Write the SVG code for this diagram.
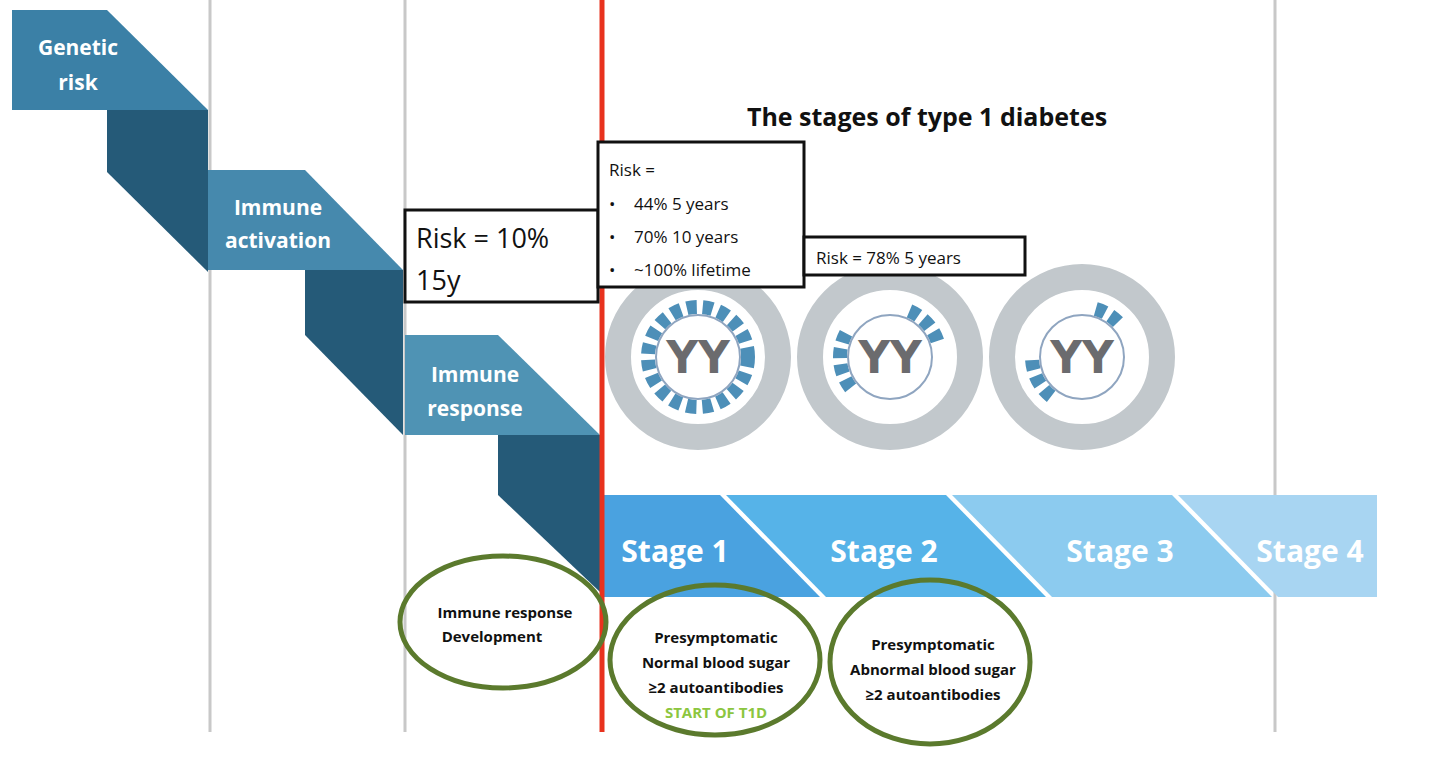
<svg xmlns="http://www.w3.org/2000/svg" width="1440" height="774" viewBox="0 0 1440 774">
<style>
.lt{fill:#3b80a6}.dk{fill:#255a78}
.wt{font-family:"Open Sans","Liberation Sans",sans-serif;font-weight:bold;fill:#fff;text-anchor:middle}
.bx{fill:#fff;stroke:#111;stroke-width:3}
.t{font-family:"Open Sans","Liberation Sans",sans-serif;fill:#111}
.ov{fill:none;stroke:#5b7a2d;stroke-width:5}
.ring{fill:none;stroke:#c2c8cc;stroke-width:26}
.gear{fill:none;stroke:#4d8fb8;stroke-width:14}
.yy{font-family:"DejaVu Sans","Liberation Sans",sans-serif;font-weight:bold;font-size:44px;fill:#6b6b6e;text-anchor:middle}
.ot{font-family:"Open Sans","Liberation Sans",sans-serif;font-weight:bold;font-size:15px;fill:#111;text-anchor:middle}
</style>
<rect width="1440" height="774" fill="#fff"/>
<g id="gridlines" stroke="#c8c8c8" stroke-width="3">
<line x1="210" y1="0" x2="210" y2="732"/><line x1="405" y1="0" x2="405" y2="732"/><line x1="1275" y1="0" x2="1275" y2="732"/>
</g>
<g id="stairs">
<polygon class="dk" points="107,110 208,110 208,272 107,172"/>
<polygon class="dk" points="305,270 403,270 403,435 305,335"/>
<polygon class="dk" points="498,435 600,435 600,592 498,495"/>
<g id="genetic"><polygon class="lt" points="12,10 107,10 208,110 12,110"/><text class="wt" font-size="21"><tspan x="78" y="55">Genetic</tspan><tspan x="78" y="90">risk</tspan></text></g>
<g id="activation"><polygon points="208,170 305,170 403,270 208,270" fill="#4689ad"/><text class="wt" font-size="21"><tspan x="278" y="215">Immune</tspan><tspan x="278" y="248">activation</tspan></text></g>
<g id="response"><polygon points="405,335 498,335 600,435 405,435" fill="#4f93b4"/><text class="wt" font-size="21"><tspan x="475" y="382">Immune</tspan><tspan x="475" y="416">response</tspan></text></g>
</g>
<g id="stages">
<g id="s1"><polygon points="600,495 720,495 820,597 600,597" fill="#4aa2e0"/><text class="wt" font-size="30" x="675" y="562">Stage 1</text></g>
<g id="s2"><polygon points="726,495 946,495 1046,597 826,597" fill="#56b3e8"/><text class="wt" font-size="30" x="884" y="562">Stage 2</text></g>
<g id="s3"><polygon points="952,495 1172,495 1272,597 1052,597" fill="#8ccbef"/><text class="wt" font-size="30" x="1120" y="562">Stage 3</text></g>
<g id="s4"><polygon points="1178,495 1377,495 1377,597 1278,597" fill="#a8d5f2"/><text class="wt" font-size="30" x="1310" y="562">Stage 4</text></g>
</g>
<line x1="602" y1="0" x2="602" y2="732" stroke="#e8321e" stroke-width="5"/>
<text class="t" x="927" y="126" font-size="25" font-weight="bold" text-anchor="middle">The stages of type 1 diabetes</text>
<g id="circles">
<g id="c1"><circle cx="698" cy="357" r="80" class="ring"/><circle cx="698" cy="357" r="50" class="gear" style="stroke-dasharray:10 6"/><circle cx="698" cy="357" r="42" fill="#fff" stroke="#8fa5c0" stroke-width="2"/><text class="yy" x="698" y="373">YY</text></g>
<g id="c2"><circle cx="890" cy="357" r="80" class="ring"/><circle cx="890" cy="357" r="50" class="gear" transform="rotate(-90 890 357)" style="stroke-dasharray:0 20 10 6 10 6 10 140 10 6 10 6 10 6 10 64"/><circle cx="890" cy="357" r="42" fill="#fff" stroke="#8fa5c0" stroke-width="2"/><text class="yy" x="890" y="373">YY</text></g>
<g id="c3"><circle cx="1082" cy="357" r="80" class="ring"/><circle cx="1082" cy="357" r="50" class="gear" transform="rotate(-90 1082 357)" style="stroke-dasharray:0 14 10 6 10 150 10 6 10 6 10 82"/><circle cx="1082" cy="357" r="42" fill="#fff" stroke="#8fa5c0" stroke-width="2"/><text class="yy" x="1082" y="373">YY</text></g>
</g>
<g id="risk10"><rect class="bx" x="405" y="210" width="193" height="92"/><text class="t" font-size="27"><tspan x="416" y="248">Risk = 10%</tspan><tspan x="416" y="290">15y</tspan></text></g>
<g id="riskA"><rect class="bx" x="598" y="142" width="206" height="145"/><text class="t" font-size="17"><tspan x="609" y="176">Risk =</tspan><tspan x="609" y="210">•</tspan><tspan x="634">44% 5 years</tspan><tspan x="609" y="243">•</tspan><tspan x="634">70% 10 years</tspan><tspan x="609" y="276">•</tspan><tspan x="634">~100% lifetime</tspan></text></g>
<g id="risk78"><rect class="bx" x="804" y="237" width="221" height="38"/><text class="t" font-size="17" x="816" y="264">Risk = 78% 5 years</text></g>
<g id="o1"><ellipse class="ov" cx="503" cy="622" rx="103" ry="66"/><text class="ot"><tspan x="505" y="618">Immune response</tspan><tspan x="492" y="642">Development</tspan></text></g>
<g id="o2"><ellipse class="ov" cx="715" cy="660" rx="105" ry="75"/><text class="ot"><tspan x="716" y="643">Presymptomatic</tspan><tspan x="716" y="668">Normal blood sugar</tspan><tspan x="716" y="693">≥2 autoantibodies</tspan><tspan x="716" y="718" fill="#8cc63f">START OF T1D</tspan></text></g>
<g id="o3"><ellipse class="ov" cx="930" cy="662" rx="100" ry="82"/><text class="ot"><tspan x="933" y="650">Presymptomatic</tspan><tspan x="933" y="675">Abnormal blood sugar</tspan><tspan x="933" y="700">≥2 autoantibodies</tspan></text></g>
</svg>
